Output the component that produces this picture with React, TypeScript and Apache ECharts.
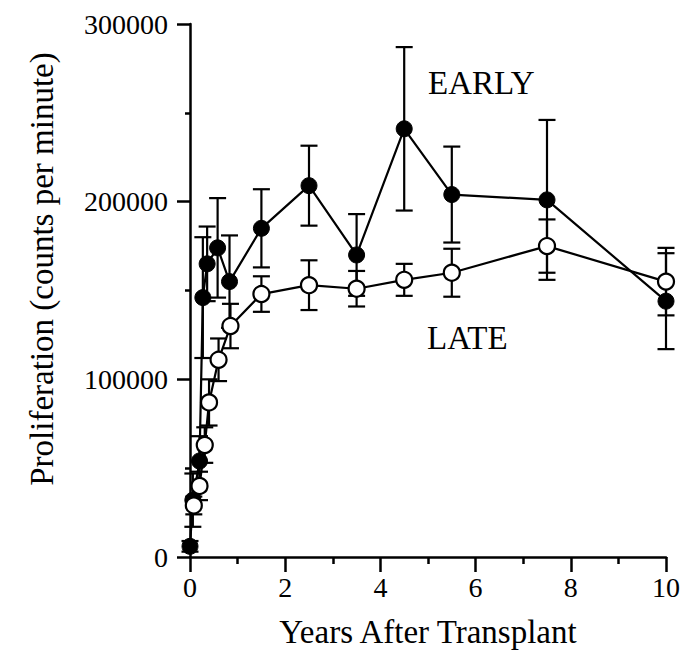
import React, { useEffect, useRef } from "react";
import * as echarts from "echarts";

// Years after transplant (x) and proliferation values (counts per minute)
const earlyX = [0, 0.06, 0.2, 0.27, 0.36, 0.58, 0.83, 1.5, 2.5, 3.5, 4.5, 5.5, 7.5, 10];
const earlyY = [6000, 32000, 54000, 146000, 165000, 174000, 155000, 185000, 209000, 170000, 241000, 204000, 201000, 144000];
const earlyErr = [3000, 15000, 14000, 34000, 21000, 28000, 26000, 22000, 22500, 23000, 46000, 27000, 45000, 27000];

const lateX = [0.08, 0.2, 0.31, 0.4, 0.6, 0.85, 1.5, 2.5, 3.5, 4.5, 5.5, 7.5, 10];
const lateY = [29000, 40000, 63000, 87000, 111000, 130000, 148000, 153000, 151000, 156000, 160000, 175000, 155000];
const lateErr = [5000, 8000, 10000, 13000, 12000, 12500, 10000, 14000, 10000, 9000, 13500, 15000, 19000];

const xTicks = [0, 2, 4, 6, 8, 10];
const yTicks = [0, 100000, 200000, 300000];

const FONT = "'Liberation Serif', 'Times New Roman', serif";

function errorSeries(name: string, xs: number[], ys: number[], errs: number[]) {
  const data = xs.map((x, i) => [x, ys[i] - errs[i], ys[i] + errs[i]]);
  return {
    name,
    type: "custom",
    z: 1,
    silent: true,
    data,
    encode: { x: 0, y: [1, 2] },
    renderItem: (params: any, api: any) => {
      const x = api.value(0);
      const lo = api.coord([x, api.value(1)]);
      const hi = api.coord([x, api.value(2)]);
      const hw = 8.5;
      const st = { stroke: "#000", lineWidth: 2.2 };
      return {
        type: "group",
        children: [
          { type: "line", shape: { x1: lo[0], y1: lo[1], x2: hi[0], y2: hi[1] }, style: st },
          { type: "line", shape: { x1: lo[0] - hw, y1: lo[1], x2: lo[0] + hw, y2: lo[1] }, style: st },
          { type: "line", shape: { x1: hi[0] - hw, y1: hi[1], x2: hi[0] + hw, y2: hi[1] }, style: st },
        ],
      };
    },
  };
}

export default function App() {
  const ref = useRef<HTMLDivElement>(null);
  useEffect(() => {
    if (!ref.current) return;
    const chart = echarts.init(ref.current, undefined, { renderer: "svg" });
    const axisLine = { show: true, lineStyle: { color: "#000", width: 2.5 } };
    chart.setOption({
      animation: false,
      backgroundColor: "#fff",
      grid: { left: 190, right: 13, top: 24, bottom: 101, containLabel: false },
      xAxis: {
        type: "value",
        min: xTicks[0],
        max: xTicks[xTicks.length - 1],
        interval: 2,
        name: "Years After Transplant",
        nameLocation: "middle",
        nameGap: 58,
        nameTextStyle: { fontFamily: FONT, fontSize: 33, color: "#000" },
        axisLine,
        axisTick: { show: true, length: 15, lineStyle: { color: "#000", width: 2.5 } },
        minorTick: { show: true, splitNumber: 2, length: 7, lineStyle: { color: "#000", width: 2.5 } },
        axisLabel: { fontFamily: FONT, fontSize: 28, color: "#000", margin: 16 },
        splitLine: { show: false },
      },
      yAxis: {
        type: "value",
        min: yTicks[0],
        max: yTicks[yTicks.length - 1],
        interval: 100000,
        axisLine,
        axisTick: { show: true, length: 13, lineStyle: { color: "#000", width: 2.5 } },
        minorTick: { show: true, splitNumber: 2, length: 5, lineStyle: { color: "#000", width: 2.5 } },
        axisLabel: {
          fontFamily: FONT,
          fontSize: 28,
          color: "#000",
          margin: 22,
          formatter: (v: number) => String(v),
        },
        splitLine: { show: false },
      },
      graphic: [
        {
          type: "text",
          x: 42,
          y: 269,
          rotation: Math.PI / 2,
          style: {
            text: "Proliferation (counts per minute)",
            fontFamily: FONT,
            fontSize: 33,
            fill: "#000",
            textAlign: "center",
            textVerticalAlign: "middle",
          },
        },
        {
          type: "text",
          x: 428,
          y: 83,
          style: { text: "EARLY", fontFamily: FONT, fontSize: 33, fill: "#000", textAlign: "left", textVerticalAlign: "middle" },
        },
        {
          type: "text",
          x: 427,
          y: 338,
          style: { text: "LATE", fontFamily: FONT, fontSize: 33, fill: "#000", textAlign: "left", textVerticalAlign: "middle" },
        },
      ],
      series: [
        errorSeries("EARLY error", earlyX, earlyY, earlyErr),
        errorSeries("LATE error", lateX, lateY, lateErr),
        {
          name: "EARLY",
          type: "line",
          z: 3,
          data: earlyX.map((x, i) => [x, earlyY[i]]),
          symbol: "circle",
          symbolSize: 16,
          lineStyle: { color: "#000", width: 2.2 },
          itemStyle: { color: "#000", borderColor: "#000", borderWidth: 1 },
        },
        {
          name: "LATE",
          type: "line",
          z: 4,
          data: lateX.map((x, i) => [x, lateY[i]]),
          symbol: "circle",
          symbolSize: 16,
          lineStyle: { color: "#000", width: 2.2 },
          itemStyle: { color: "#fff", borderColor: "#000", borderWidth: 2.2 },
        },
      ],
    });
    return () => chart.dispose();
  }, []);
  return (
    <div
      ref={ref}
      style={{ position: "absolute", left: 0, top: 0, width: 683, height: 658, background: "#fff" }}
    />
  );
}
